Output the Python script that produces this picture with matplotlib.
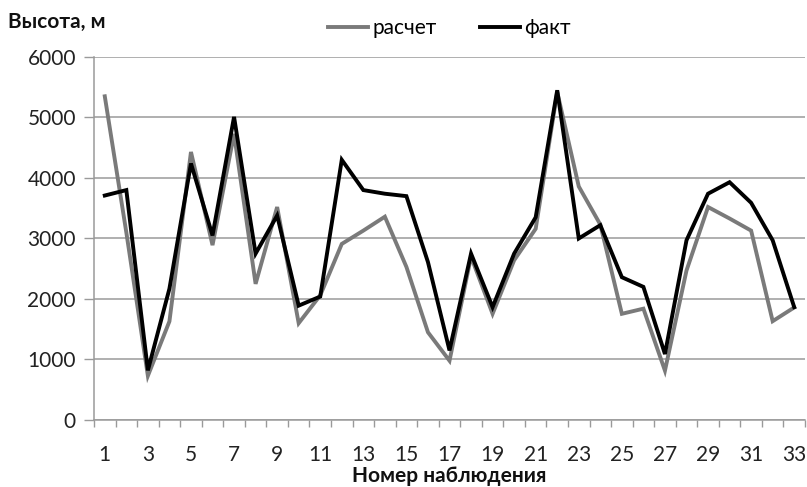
import numpy as np
import matplotlib
matplotlib.use('Agg')
import matplotlib.pyplot as plt
from matplotlib.ticker import FixedLocator

plt.rcParams['font.family'] = ['Lato', 'DejaVu Sans']

nums = list(range(1, 34))
raschet = [5350, 3100, 730, 1630, 4430, 2890, 4730, 2250, 3520, 1600,
           2060, 2910, 3130, 3360, 2530, 1450, 980, 2700, 1755, 2640,
           3160, 5420, 3860, 3230, 1755, 1840, 816, 2470, 3520, 3330,
           3130, 1633, 1860]
fakt = [3710, 3800, 820, 2170, 4240, 3050, 5010, 2750, 3380, 1890,
        2040, 4300, 3800, 3740, 3700, 2610, 1150, 2750, 1865, 2750,
        3350, 5450, 3000, 3220, 2360, 2200, 1090, 2970, 3740, 3930,
        3590, 2970, 1865]
yticks = [0, 1000, 2000, 3000, 4000, 5000, 6000]

fig = plt.figure(figsize=(8.07, 4.87), dpi=100)
ax = fig.add_axes([0.1165, 0.1376, 0.881, 0.7454])

pos = np.arange(len(nums))
ax.plot(pos, raschet, color='#7a7a7a', lw=2.8, label='расчет', solid_joinstyle='miter')
ax.plot(pos, fakt, color='#000000', lw=2.8, label='факт', solid_joinstyle='miter')

ax.set_xlim(-0.5, len(nums) - 0.5)
ax.set_ylim(0, 6000)
ax.set_yticks(yticks)
ax.set_yticklabels([str(v) for v in yticks])
ax.yaxis.grid(True, color='#9a9a9a', lw=1.1)
ax.set_axisbelow(True)

ax.set_xticks(pos[::2])
ax.set_xticklabels([str(n) for n in nums[::2]])
ax.xaxis.set_minor_locator(FixedLocator(np.arange(-0.5, len(nums), 1.0)))
ax.tick_params(axis='x', which='major', length=0, pad=18, labelsize=15, colors='#222222')
ax.tick_params(axis='x', which='minor', length=5, width=1, color='#9a9a9a')
ax.tick_params(axis='y', length=7, width=1, color='#9a9a9a', labelsize=15,
               labelcolor='#222222', pad=6)

for s in ['top', 'right']:
    ax.spines[s].set_visible(False)
for s in ['left', 'bottom']:
    ax.spines[s].set_color('#9a9a9a')
    ax.spines[s].set_linewidth(1.1)

ax.set_xlabel('Номер наблюдения', fontsize=15, fontweight='bold', labelpad=1, color='#111111')
fig.text(0.01, 0.955, 'Высота, м', fontsize=15, fontweight='bold', va='center', ha='left',
         color='#111111')

ax.legend(loc='center', bbox_to_anchor=(0.50, 1.08), ncol=2, frameon=False, fontsize=15,
          handlelength=1.9, handletextpad=0.2, columnspacing=2.1)

fig.savefig('out.png', dpi=100)
